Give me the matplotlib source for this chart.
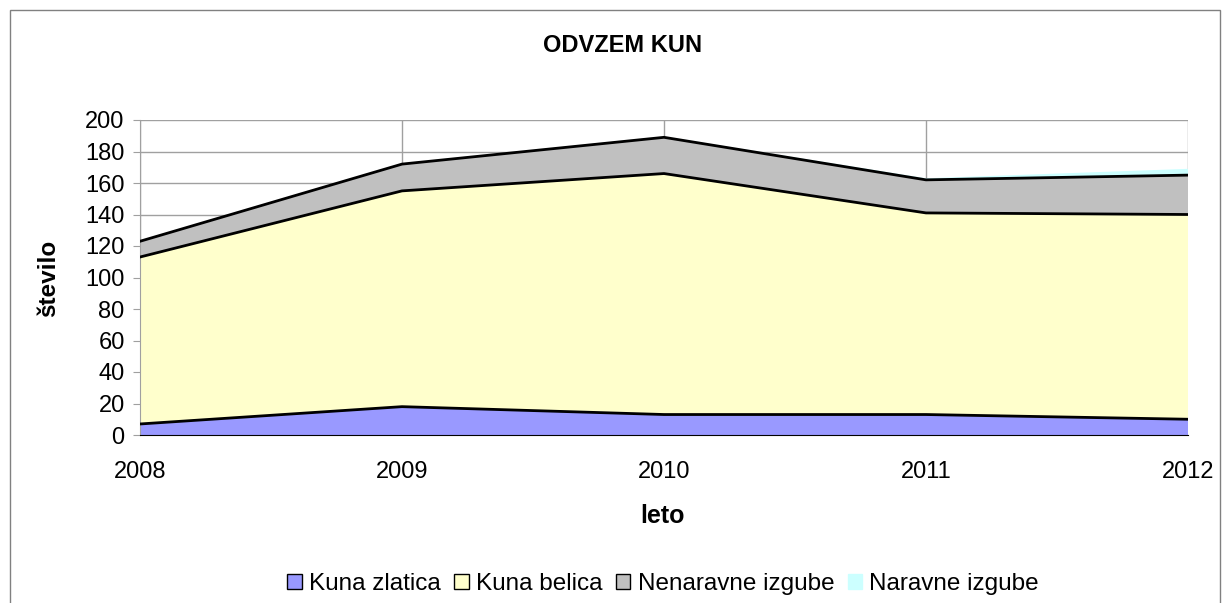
import matplotlib.pyplot as plt
from matplotlib.patches import Rectangle, Patch

years = [2008, 2009, 2010, 2011, 2012]
kuna_zlatica = [7, 18, 13, 13, 10]
kuna_belica = [106, 137, 153, 128, 130]
nenaravne = [10, 17, 23, 21, 25]
naravne = [0, 0.5, 0.5, 1, 4]

labels = ["Kuna zlatica", "Kuna belica", "Nenaravne izgube", "Naravne izgube"]
colors = ["#9999FF", "#FFFFCC", "#C0C0C0", "#CCFFFF"]

plt.rcParams['font.family'] = ['Liberation Sans', 'DejaVu Sans']

fig = plt.figure(figsize=(12.26, 6.03), dpi=100)
ax = fig.add_axes([140/1226, 1-435/603, (1188-140)/1226, (435-120)/603])

# outer chart border
fig.patches.append(Rectangle((10/1226, -0.01), 1210/1226, 1-10/603+0.01,
                             transform=fig.transFigure, fill=False,
                             edgecolor="#808080", linewidth=1))

ax.stackplot(years, kuna_zlatica, kuna_belica, nenaravne, naravne,
             colors=colors, linewidth=0)
# black outlines on top of each series
cum = [0]*len(years)
for s in [kuna_zlatica, kuna_belica, nenaravne]:
    cum = [c + v for c, v in zip(cum, s)]
    ax.plot(years, cum, color="black", linewidth=2, zorder=3)

ax.set_xlim(2008, 2012)
ax.set_ylim(0, 200)
ax.set_yticks(range(0, 201, 20))
ax.set_xticks(years)
ax.grid(True, color="#A0A0A0", linewidth=1)
ax.set_axisbelow(True)
for sp in ["top", "right"]:
    ax.spines[sp].set_visible(False)
ax.spines["left"].set_color("#A0A0A0")
ax.spines["bottom"].set_color("black")
ax.tick_params(axis="y", length=5, color="#A0A0A0", labelsize=17, pad=6)
ax.tick_params(axis="x", length=0, labelsize=17, pad=19)

fig.text(623/1226, 1-46/603, "ODVZEM KUN", ha="center", va="center",
         fontsize=17, fontweight="bold")
fig.text(662/1226, 1-516/603, "leto", ha="center", va="center",
         fontsize=18, fontweight="bold")
fig.text(49/1226, 1-278/603, "število", ha="center", va="center",
         rotation=90, fontsize=17.5, fontweight="bold")

handles = [Patch(facecolor=c, edgecolor="black" if i < 3 else c, linewidth=1)
           for i, c in enumerate(colors)]
fig.legend(handles, labels, loc="center", bbox_to_anchor=(663/1226, 1-584/603),
           ncol=4, frameon=False, fontsize=17.5, handlelength=0.6,
           handleheight=0.6, handletextpad=0.3, columnspacing=0.55,
           borderpad=0, borderaxespad=0)

fig.savefig("out.png", dpi=100)
